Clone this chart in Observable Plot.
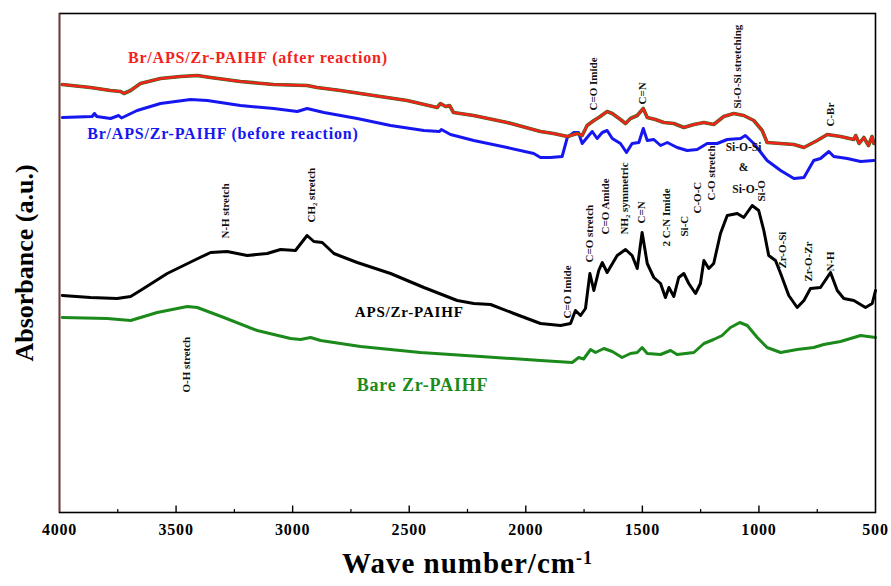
<!DOCTYPE html>
<html><head><meta charset="utf-8">
<script src="https://cdn.jsdelivr.net/npm/d3@7"></script>
<script src="https://cdn.jsdelivr.net/npm/@observablehq/plot@0.6"></script>
<style>
body{margin:0;background:#fff}
svg{display:block}
</style></head>
<body><div id="chart"></div>
<script>
// ---------- data (wavenumber cm-1, absorbance a.u., offset-stacked as in the figure) ----------
const afterWn  = [3988,3867,3781,3738,3724,3695,3653,3567,3481,3409,3352,3224,3082,2938,2895,2795,2653,2509,2380,2366,2344,2327,2310,2224,2080,1937,1881,1822,1780,1758,1737,1708,1687,1651,1629,1594,1572,1551,1522,1496,1479,1444,1408,1365,1322,1279,1236,1194,1151,1108,1065,1022,986,965,907,850,807,750,707,650,593,585,570,550,530,515,507];
const afterAbs = [4.28,4.25,4.22,4.21,4.19,4.22,4.29,4.34,4.36,4.37,4.35,4.31,4.28,4.27,4.25,4.22,4.17,4.12,4.05,4.09,4.06,4.07,4.00,3.97,3.90,3.81,3.79,3.76,3.79,3.77,3.87,3.92,3.95,4.01,3.99,3.93,3.89,3.94,3.97,4.04,3.95,3.93,3.90,3.89,3.85,3.88,3.90,3.88,3.96,3.99,3.97,3.92,3.82,3.70,3.69,3.68,3.65,3.72,3.78,3.76,3.73,3.77,3.69,3.75,3.67,3.76,3.69];

const beforeWn  = [3988,3860,3850,3840,3781,3746,3734,3667,3567,3438,3366,3224,3081,2980,2938,2866,2723,2580,2437,2370,2362,2323,2223,2080,1966,1937,1894,1844,1822,1794,1774,1758,1737,1715,1694,1672,1651,1629,1594,1568,1544,1515,1496,1479,1451,1422,1393,1351,1308,1265,1222,1179,1136,1079,1058,1022,965,907,850,807,765,736,700,679,621,564,507];
const beforeAbs = [3.95,3.96,3.99,3.96,3.94,3.97,3.945,4.02,4.09,4.13,4.12,4.07,4.04,4.01,4.04,4.00,3.94,3.87,3.82,3.81,3.83,3.78,3.72,3.65,3.59,3.55,3.55,3.56,3.75,3.80,3.80,3.69,3.75,3.81,3.74,3.80,3.82,3.74,3.69,3.60,3.69,3.70,3.84,3.72,3.73,3.67,3.70,3.65,3.62,3.63,3.69,3.69,3.73,3.74,3.77,3.69,3.52,3.42,3.34,3.35,3.52,3.54,3.61,3.56,3.54,3.51,3.52];

const apsWn  = [3988,3867,3753,3695,3653,3538,3424,3352,3281,3195,3109,3052,2988,2938,2909,2873,2823,2723,2580,2437,2294,2223,2151,2051,1937,1851,1808,1787,1765,1744,1725,1708,1687,1672,1651,1608,1572,1544,1522,1501,1479,1451,1422,1401,1386,1365,1344,1322,1301,1272,1251,1236,1215,1194,1165,1136,1093,1065,1029,1001,979,958,929,907,872,836,807,779,736,693,664,636,593,543,514,500];
const apsAbs = [2.17,2.15,2.14,2.16,2.22,2.39,2.52,2.60,2.61,2.57,2.59,2.63,2.62,2.77,2.71,2.70,2.59,2.50,2.39,2.25,2.12,2.09,2.08,1.99,1.89,1.87,1.89,2.02,1.97,2.04,2.39,2.22,2.42,2.50,2.40,2.57,2.63,2.57,2.44,2.80,2.49,2.35,2.29,2.15,2.25,2.16,2.35,2.39,2.29,2.19,2.29,2.52,2.44,2.49,2.79,2.97,2.99,2.95,3.07,3.02,2.82,2.57,2.52,2.39,2.17,2.05,2.12,2.24,2.25,2.40,2.22,2.14,2.12,2.05,2.09,2.22];

const bareWn  = [3988,3795,3695,3581,3452,3409,3295,3152,3009,2966,2923,2880,2709,2452,2194,1937,1801,1773,1752,1722,1701,1665,1629,1587,1551,1522,1501,1479,1422,1379,1351,1279,1236,1194,1158,1122,1082,1050,1007,965,907,836,765,722,650,564,500];
const bareAbs = [1.95,1.94,1.92,2.00,2.06,2.05,1.95,1.82,1.74,1.73,1.75,1.72,1.66,1.60,1.56,1.52,1.50,1.55,1.535,1.63,1.60,1.64,1.61,1.55,1.59,1.60,1.65,1.59,1.58,1.62,1.58,1.60,1.69,1.73,1.77,1.85,1.90,1.87,1.75,1.65,1.60,1.63,1.65,1.68,1.71,1.77,1.75];

const xTickValues  = [4000,3500,3000,2500,2000,1500,1000,500];
const xMinorValues = [3750,3250,2750,2250,1750,1250,750];

const seriesNames  = ["Br/APS/Zr-PAIHF (after reaction)","Br/APS/Zr-PAIHF (before reaction)","APS/Zr-PAIHF","Bare Zr-PAIHF"];
const seriesLabelWn  = [3149,3299,2500,2443];
const seriesLabelAbs = [4.55,3.79,2.00,1.27];
const seriesColors = ["#f2231b","#1616f0","#000000","#1b8a1b"];
const seriesFont   = [16,16,15,18];

const annoText = ["O-H stretch","N-H stretch","CH\u2082 stretch","C=O Imide","C=O stretch","C=O Amide","NH\u2082 symmetric","C=N","2 C-N Imide","Si-C","C-O-C","C-O stretch","Si-O","Si-O-Si stretching","C=O Imide","C=N","C-Br","Zr-O-Si","Zr-O-Zr","N-H"];
const annoWn   = [3455,3288,2919,1821,1727,1658,1577,1504,1396,1319,1263,1203,989,1092,1710,1499,693,899,787,693];
const annoAbs  = [1.20,2.74,2.90,1.94,2.50,2.78,2.78,2.89,2.66,2.76,2.99,3.12,3.11,4.04,4.02,4.08,3.86,2.44,2.31,2.41];

const flatText = ["Si-O-Si","&"];
const flatWn   = [1066,1066];
const flatAbs  = [3.65,3.45];
const endText = ["Si-O-"], endWn = [1002], endAbs = [3.23];

// ---------- build tables ----------
const mk = (w, a) => w.map((d, i) => ({wn: d, a: a[i]}));
const after = mk(afterWn, afterAbs), before = mk(beforeWn, beforeAbs), aps = mk(apsWn, apsAbs), bare = mk(bareWn, bareAbs);
const seriesLabels = seriesNames.map((t, i) => ({t, wn: seriesLabelWn[i], a: seriesLabelAbs[i], c: seriesColors[i], fs: seriesFont[i]}));
const annos = annoText.map((t, i) => ({t, wn: annoWn[i], a: annoAbs[i]}));
const flats = flatText.map((t, i) => ({t, wn: flatWn[i], a: flatAbs[i]}));
const ends = endText.map((t, i) => ({t, wn: endWn[i], a: endAbs[i]}));

const serif = "'Liberation Serif','Times New Roman',Times,serif";
const lineOpts = {x: "wn", y: "a", strokeWidth: 3, strokeLinejoin: "round", strokeLinecap: "round"};

const chart = Plot.plot({
  width: 891, height: 586,
  marginLeft: 59, marginRight: 16, marginTop: 13, marginBottom: 74,
  x: {domain: [4000, 500]},
  y: {domain: [0, 4.99], axis: null},
  style: {fontFamily: serif, background: "#fff", color: "#000"},
  marks: [
    Plot.line(bare,   {...lineOpts, stroke: seriesColors[3]}),
    Plot.line(aps,    {...lineOpts, stroke: seriesColors[2]}),
    Plot.line(before, {...lineOpts, stroke: seriesColors[1]}),
    Plot.line(after,  {...lineOpts, stroke: "#2f6e1f", strokeWidth: 3.6}),
    Plot.line(after,  {...lineOpts, stroke: seriesColors[0], strokeWidth: 2.4}),
    Plot.frame({stroke: "#000", strokeWidth: 1.6}),
    Plot.ruleX([4000], {stroke: "#9a2a18", strokeWidth: 1.4}),
    Plot.ruleX(xTickValues.slice(1, -1), {x: d => d, y1: 0, y2: 0.065, stroke: "#000", strokeWidth: 1.4}),
    Plot.ruleX(xMinorValues, {x: d => d, y1: 0, y2: 0.03, stroke: "#000", strokeWidth: 1.2}),
    Plot.axisX({ticks: xTickValues, tickSize: 0, tickPadding: 11, tickFormat: d => String(d), fontSize: 16, fontWeight: "bold", label: null}),
    Plot.text(seriesLabels, {x: "wn", y: "a", text: "t", fill: "c", fontSize: "fs", fontWeight: "bold"}),
    Plot.text(annos, {x: "wn", y: "a", text: "t", rotate: -90, textAnchor: "start", fontSize: 11, fontWeight: "bold", fill: "#111"}),
    Plot.text(flats, {x: "wn", y: "a", text: "t", fontSize: 11.5, fontWeight: "bold", fill: "#111"}),
    Plot.text(ends, {x: "wn", y: "a", text: "t", textAnchor: "end", fontSize: 11.5, fontWeight: "bold", fill: "#111"}),
    Plot.text(["Wave number/cm"], {frameAnchor: "bottom", dy: 60, textAnchor: "middle", text: d => d, fontSize: 29, fontWeight: "bold", fill: "#000"}),
    Plot.text(["Absorbance (a.u.)"], {frameAnchor: "left", dx: -35, rotate: -90, textAnchor: "middle", text: d => d, fontSize: 26, fontWeight: "bold", fill: "#000"})
  ]
});
document.getElementById("chart").append(chart);

// superscript on the x-axis title, letter spacing on the series labels / tick labels
d3.select(chart).selectAll("text").each(function() {
  const el = d3.select(this);
  const t = el.text();
  if (t === "Wave number/cm") {
    el.style("letter-spacing", "1px");
    el.append("tspan").attr("dy", "-0.45em").attr("font-size", "0.62em").text("-1");
  }
  if (seriesNames.includes(t)) el.style("letter-spacing", "0.8px");
  if (xTickValues.map(String).includes(t)) el.style("letter-spacing", "0.8px");
});
</script></body></html>
